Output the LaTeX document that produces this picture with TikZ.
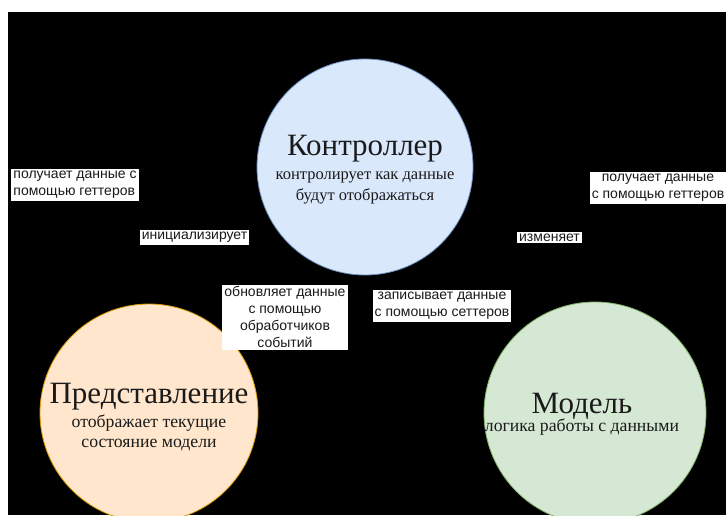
\documentclass[tikz,border=0pt]{standalone}
\usepackage{fontspec}
\setmainfont{Liberation Serif}
\newfontfamily\lblfont{Liberation Sans}
\definecolor{ctrlfill}{HTML}{DAE8FC}
\definecolor{ctrlline}{HTML}{6C8EBF}
\definecolor{viewfill}{HTML}{FFE6CC}
\definecolor{viewline}{HTML}{D79B00}
\definecolor{modelfill}{HTML}{D5E8D4}
\definecolor{modelline}{HTML}{82B366}
\definecolor{ink}{HTML}{1A1A1A}
\begin{document}
\begin{tikzpicture}[x=1pt,y=-1pt,
  blob/.style={circle,draw,line width=0.8pt,inner sep=0pt},
  ttl/.style={anchor=base,text=ink,inner sep=0pt,font=\fontsize{31}{33}\selectfont},
  sub/.style={anchor=base,text=ink,inner sep=0pt,font=\fontsize{17.7}{20}\selectfont},
  lbl/.style={fill=white,text=ink,inner xsep=2pt,inner ysep=1.8pt,align=center,font=\lblfont\fontsize{14}{17}\selectfont},
]
\useasboundingbox (0,0) rectangle (726,515);
\clip (0,0) rectangle (726,515);
\fill[white] (0,0) rectangle (726,515);
\fill[black] (8,12) rectangle (726,515);

\node[blob,fill=ctrlfill,draw=ctrlline,minimum size=216pt] (ctrl) at (365,167) {};
\node[blob,fill=viewfill,draw=viewline,minimum size=218pt] (view) at (149,413) {};
\node[blob,fill=modelfill,draw=modelline,minimum size=222pt] (model) at (595,413) {};

\node[ttl] (ctrlt) at (365,155) {Контроллер};
\node[sub,font=\fontsize{16.5}{19}\selectfont] (ctrls1) at (365,179) {контролирует как данные};
\node[sub,font=\fontsize{16.5}{19}\selectfont] (ctrls2) at (365,200) {будут отображаться};

\node[ttl] (viewt) at (149,403) {Представление};
\node[sub] (views1) at (149,427) {отображает текущие};
\node[sub] (views2) at (149,447) {состояние модели};

\node[ttl] (modelt) at (582,413) {Модель};
\node[sub] (models1) at (582,431) {логика работы с данными};

\node[lbl,align=left] (getl) at (75,185) {получает данные с\\помощью геттеров};
\node[lbl] (init) at (194.5,237.5) {инициализирует};
\node[lbl] (getr) at (658,188) {получает данные\\с помощью геттеров};
\node[lbl] (chg) at (549.5,237.5) {изменяет};
\node[lbl] (upd) at (285,317) {обновляет данные\\с помощью\\обработчиков\\событий};
\node[lbl] (set) at (442,306) {записывает данные\\с помощью сеттеров};
\end{tikzpicture}
\end{document}
